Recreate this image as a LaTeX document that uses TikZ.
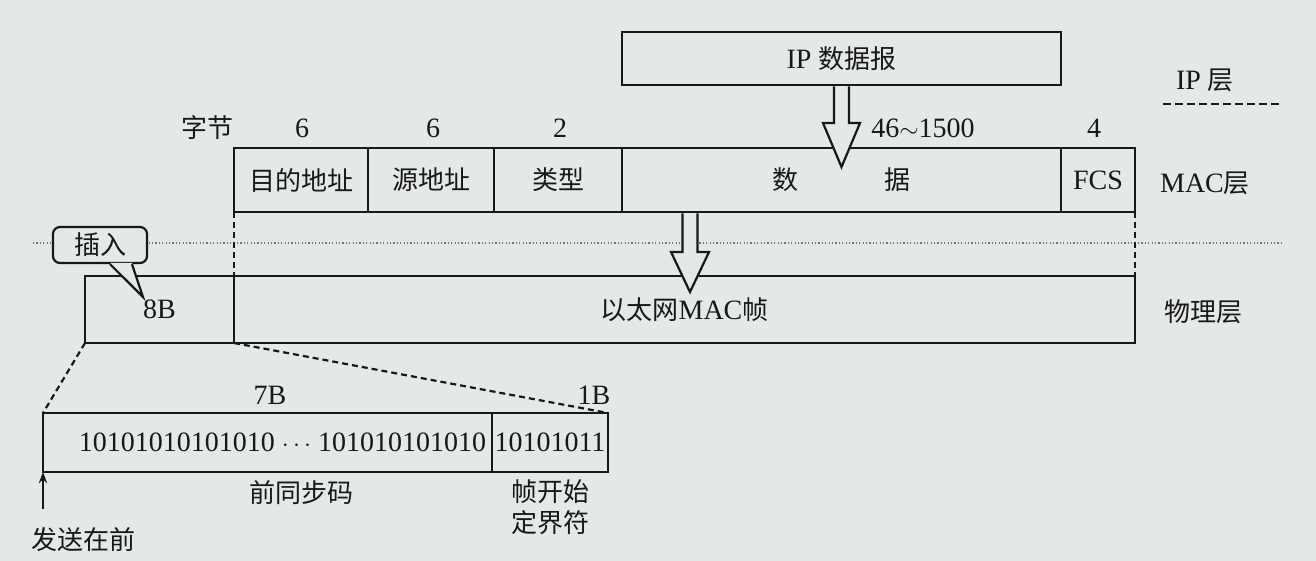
\documentclass[tikz,border=0pt]{standalone}
\usepackage{fontspec}
\setmainfont{Liberation Serif}
\newfontfamily\cjk{Noto Sans CJK SC}
\usetikzlibrary{positioning,calc,arrows.meta}
\definecolor{scanbg}{RGB}{228,233,229}
\definecolor{ink}{RGB}{24,24,24}

\begin{document}
\begin{tikzpicture}[x=1pt,y=-1pt,>=Stealth,
    every node/.style={font=\fontsize{28}{31}\selectfont, text=ink},
    cjktext/.style={font=\fontsize{26}{31}\selectfont\cjk},
    field/.style={draw=ink, line width=2.6pt, fill=scanbg, inner sep=0pt, outer sep=0pt, anchor=north west},
    callbox/.style={draw=ink, line width=2.2pt, fill=scanbg, rounded corners=7pt, inner sep=0pt},
    hollow/.style={draw=ink, line width=2.2pt, fill=scanbg, line join=miter},
    dashline/.style={draw=ink, line width=2.2pt, dash pattern=on 6pt off 4pt},
    sepline/.style={draw=ink!60, line width=1.5pt, dash pattern=on 1.2pt off 2.2pt}]

    % Background
    \fill[scanbg] (0,0) rectangle (1316,561);

    % Layer separator
    \draw[sepline] (33,243) -- (1282,243);

    % IP layer
    \node[field, minimum width=439pt, minimum height=53pt] (ip) at (622,32) {IP {\cjk\fontsize{26}{31}\selectfont 数据报}};
    \node (iplayer) at (1205,80) {IP {\cjk\fontsize{26}{31}\selectfont 层}};
    \draw[dashline, line width=2.6pt, dash pattern=on 8pt off 4pt] (1163,104) -- (1280,104);

    % Field sizes
    \node[cjktext] (bytes) at (207,128) {字节};
    \node (len6a) at (302,128) {6};
    \node (len6b) at (433,128) {6};
    \node (len2) at (560,128) {2};
    \node (lendata) at (923,128) {46$\sim$1500};
    \node (len4) at (1094,128) {4};

    % MAC frame
    \node[field, cjktext, minimum width=134pt, minimum height=64pt] (dst) at (234,148) {目的地址};
    \node[field, cjktext, minimum width=126pt, minimum height=64pt, right=0pt of dst] (src) {源地址};
    \node[field, cjktext, minimum width=128pt, minimum height=64pt, right=0pt of src] (type) {类型};
    \node[field, cjktext, minimum width=439pt, minimum height=64pt, right=0pt of type] (data) {数\hspace{86pt}据};
    \node[field, minimum width=74pt, minimum height=64pt, right=0pt of data] (fcs) {FCS};
    \node (maclayer) at (1205,183) {MAC{\cjk\fontsize{26}{31}\selectfont 层}};

    % Physical layer
    \node[field, minimum width=149pt, minimum height=67pt] (pre) at (85,276) {8B};
    \node[field, minimum width=901pt, minimum height=67pt, right=0pt of pre] (frame) {{\cjk\fontsize{26}{31}\selectfont 以太网}MAC{\cjk\fontsize{26}{31}\selectfont 帧}};
    \node[cjktext] (phylayer) at (1203,312) {物理层};

    % MAC frame down to physical layer
    \draw[dashline] (dst.south west) -- (frame.north west);
    \draw[dashline] (fcs.south east) -- (frame.north east);

    % Hollow arrows
    \begin{scope}[shift={(ip.south)}]
        \draw[hollow] (-7.5,1.3) -- (-7.5,38) -- (-18.5,38) -- (0,82) -- (18.5,38) -- (7.5,38) -- (7.5,1.3);
    \end{scope}
    \begin{scope}[shift={($(data.south west)+(68,0)$)}]
        \draw[hollow] (-7.5,1.3) -- (-7.5,40) -- (-19,40) -- (0,80) -- (19,40) -- (7.5,40) -- (7.5,1.3);
    \end{scope}

    % Preamble detail
    \node[field, minimum width=449pt, minimum height=59pt] (sync) at (43,413) {\hspace*{30pt}10101010101010 $\cdots$ 101010101010};
    \node[field, minimum width=116pt, minimum height=59pt, right=0pt of sync] (sfd) {10101011};
    \node (len7) at (270,395) {7B};
    \node (len1) at (594,395) {1B};
    \node[cjktext] (syncname) at (301,493) {前同步码};
    \node[cjktext, align=center] (sfdname) at (550,507) {帧开始\\定界符};
    \draw[dashline] (pre.south west) -- (sync.north west);
    \draw[dashline] (pre.south east) -- (sfd.north east);

    % Sending order
    \node[cjktext] (send) at (83,540) {发送在前};
    \coordinate (sendfoot) at ($(sync.south west)+(0,37)$);
    \draw[->, draw=ink, line width=1.8pt] (sendfoot) -- (sync.south west);

    % Insert callout
    \node[callbox, cjktext, minimum width=94pt, minimum height=36pt] (insert) at (100,245) {插入};
    \coordinate (tip) at ($(pre.north west)+(58,21)$);
    \fill[scanbg] ($(insert.south)+(10,-1.3)$) -- (tip) -- ($(insert.south)+(32,-1.3)$) -- cycle;
    \draw[draw=ink, line width=2.2pt] ($(insert.south)+(10,0)$) -- (tip) -- ($(insert.south)+(32,0)$);
\end{tikzpicture}
\end{document}
